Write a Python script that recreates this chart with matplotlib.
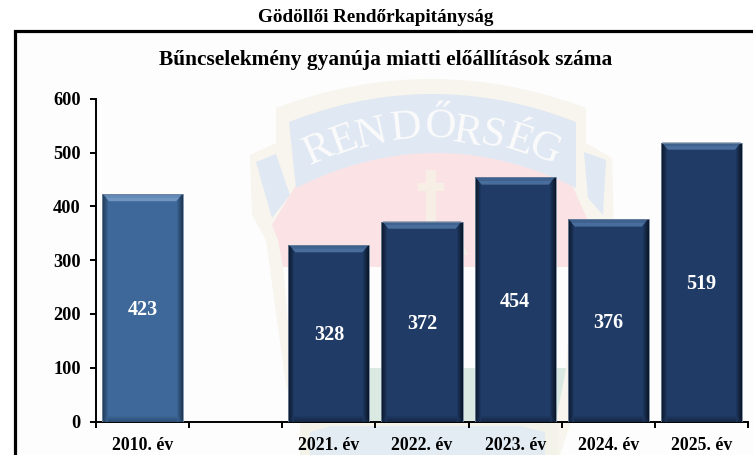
import numpy as np
import matplotlib
matplotlib.use("Agg")
import matplotlib.pyplot as plt
from matplotlib.colors import to_rgb
from matplotlib.patches import Polygon, Rectangle

plt.rcParams['font.family'] = ['Liberation Serif', 'DejaVu Serif']

header = "Gödöllői Rendőrkapitányság"
title = "Bűncselekmény gyanúja miatti előállítások száma"
categories = ["2010. év", "", "2021. év", "2022. év", "2023. év", "2024. év", "2025. év"]
values = [423, None, 328, 372, 454, 376, 519]
y_ticks = [0, 100, 200, 300, 400, 500, 600]
palette = {
    "2010. év": ("#3D6899", "#6F95C0", "#1F3855"),
}
default_colors = ("#1F3B66", "#4A6E9C", "#0B1728")

W, H = 753, 455
fig = plt.figure(figsize=(W / 100, H / 100), dpi=100, facecolor="white")

# ---- page / watermark layer, in pixel coordinates ----
bg = fig.add_axes([0, 0, 1, 1], zorder=0)
bg.set_xlim(0, W)
bg.set_ylim(H, 0)
bg.axis("off")
bg.add_patch(Rectangle((15, 30), W, H, fc="#FDFDFD", ec="none"))


def arc(x0, x1, yend, ymid, n=40):
    t = np.linspace(-1, 1, n)
    xs = (x0 + x1) / 2 + t * (x1 - x0) / 2
    ys = ymid + (yend - ymid) * t ** 2
    return list(zip(xs, ys))


cream = "#F7F5EE"
bg.add_patch(Polygon(
    [(250, 155), (276, 143)] + arc(276, 586, 108, 79) + [(586, 143), (612, 158), (614, 230),
     (590, 275), (578, 400), (560, 455), (310, 455), (286, 385), (266, 240), (252, 215)],
    fc=cream, ec="none"))
bg.add_patch(Polygon(
    [(272, 225), (296, 185)] + arc(296, 572, 185, 152) + [(572, 185), (590, 225), (572, 267),
     (283, 267), (278, 240)],
    fc="#FBE3E5", ec="none"))
bg.add_patch(Polygon([(283, 267), (573, 267), (566, 368), (292, 368)], fc="#FDFDFD", ec="none"))
bg.add_patch(Polygon([(292, 368), (566, 368), (556, 421), (300, 421)], fc="#DAE9E1", ec="none"))
bg.add_patch(Rectangle((300, 421), 258, 40, fc="#F3F3EA", ec="none"))
bg.add_patch(Polygon([(330, 426), (520, 426), (545, 432), (545, 455), (310, 455), (310, 432)],
                     fc="#E4ECF3", ec="none"))
ribbon = "#E0E8F3"
bg.add_patch(Polygon([(256, 162), (276, 154), (290, 195), (272, 218)], fc=ribbon, ec="none"))
bg.add_patch(Polygon([(584, 152), (606, 160), (603, 215), (588, 198)], fc=ribbon, ec="none"))
bg.add_patch(Polygon(
    arc(289, 576, 122, 94) + arc(576, 296, 188, 153), fc=ribbon, ec="none"))
bg.add_patch(Rectangle((426, 170), 10, 60, fc="#F7EFE6", ec="none"))
bg.add_patch(Rectangle((418, 183), 26, 8, fc="#F7EFE6", ec="none"))
bg.add_patch(Polygon([(405, 232), (457, 232), (468, 255), (395, 255)], fc="#F7EFE6", ec="none"))
letters = [("R", 319, 150, 24), ("E", 345, 141, 20), ("N", 372, 135, 13), ("D", 406, 128, 6),
           ("Ő", 440, 127, -2), ("R", 468, 133, -9), ("S", 492, 136, -14), ("É", 519, 141, -18),
           ("G", 544, 149, -22)]
for ch, lx, ly, rot in letters:
    bg.text(lx, ly, ch, color="#FBFBFB", fontsize=31, ha="center", va="center", rotation=rot,
            rotation_mode="anchor")

bg.plot([15.5, 15.5, W + 2], [H + 2, 31.3, 31.3], color="black", lw=2.3, solid_joinstyle="miter")

# ---- chart ----
ax = fig.add_axes([96 / W, 1 - 421.5 / H, (748 - 96) / W, (421.5 - 99) / H], zorder=2)
ax.patch.set_alpha(0)
x = np.arange(len(categories))
ax.set_xlim(-0.5, len(categories) - 0.5)
ax.set_ylim(0, 600)
bar_w = 0.87
px_x = len(categories) / (748 - 96)
px_y = 600 / (421.5 - 99)


def mix(c0, c1, t):
    return tuple((1 - t) * a + t * b for a, b in zip(to_rgb(c0), to_rgb(c1)))


for xi, cat, v in zip(x, categories, values):
    if v is None:
        continue
    face, light, dark = palette.get(cat, default_colors)
    ax.bar(xi, v, width=bar_w, color=face, edgecolor="none", zorder=2)
    l, r = xi - bar_w / 2, xi + bar_w / 2
    steps = 6
    for i in range(steps):
        c = mix(dark, face, i / steps)
        dx, dy = i * px_x, i * px_y
        ax.add_patch(Rectangle((l + dx, 0), px_x, v, fc=c, ec="none", zorder=3))
        ax.add_patch(Rectangle((r - dx - px_x, 0), px_x, v, fc=c, ec="none", zorder=3))
        ax.add_patch(Rectangle((l + dx, dy), bar_w - 2 * dx, px_y,
                               fc=mix(dark, face, 0.45 + 0.55 * i / steps), ec="none", zorder=3))
    bx, by = 7 * px_x, 7 * px_y
    ax.add_patch(Polygon([(l + px_x, v), (r - px_x, v), (r - bx, v - by), (l + bx, v - by)],
                         fc=mix(face, light, 0.75), ec="none", zorder=4))
    ax.add_patch(Polygon([(l + 4 * px_x, v - 3.5 * px_y), (r - 4 * px_x, v - 3.5 * px_y),
                          (r - bx, v - by), (l + bx, v - by)], fc=light, ec="none", zorder=4))
    ax.plot([l, l, r, r], [0, v, v, 0], color="#71869F", lw=0.6, zorder=5)
    ax.annotate(str(v), (xi, v / 2), xytext=(0, -1.5), textcoords="offset points", color="white",
                fontsize=14.5, fontweight="bold", ha="center", va="center", zorder=6)

for s in ("top", "right"):
    ax.spines[s].set_visible(False)
for s in ("left", "bottom"):
    ax.spines[s].set_linewidth(1.4)
ax.set_yticks(y_ticks)
ax.set_yticklabels([str(t) for t in y_ticks], fontsize=13.2, fontweight="bold")
ax.tick_params(axis="y", length=4.5, width=1.4, pad=6.5)
ax.set_xticks(np.arange(len(categories) + 1) - 0.5)
ax.set_xticklabels([])
ax.set_xticks(x, minor=True)
ax.set_xticklabels(categories, minor=True, fontsize=12.8, fontweight="bold")
ax.tick_params(axis="x", which="major", length=4.5, width=1.4)
ax.tick_params(axis="x", which="minor", length=0, pad=11)

fig.text(376 / W, 1 - 18 / H, header, fontsize=13.8, fontweight="bold", ha="center", va="center")
fig.text(386 / W, 1 - 60 / H, title, fontsize=15.4, fontweight="bold", ha="center", va="center")

fig.savefig("out.png", dpi=100)
